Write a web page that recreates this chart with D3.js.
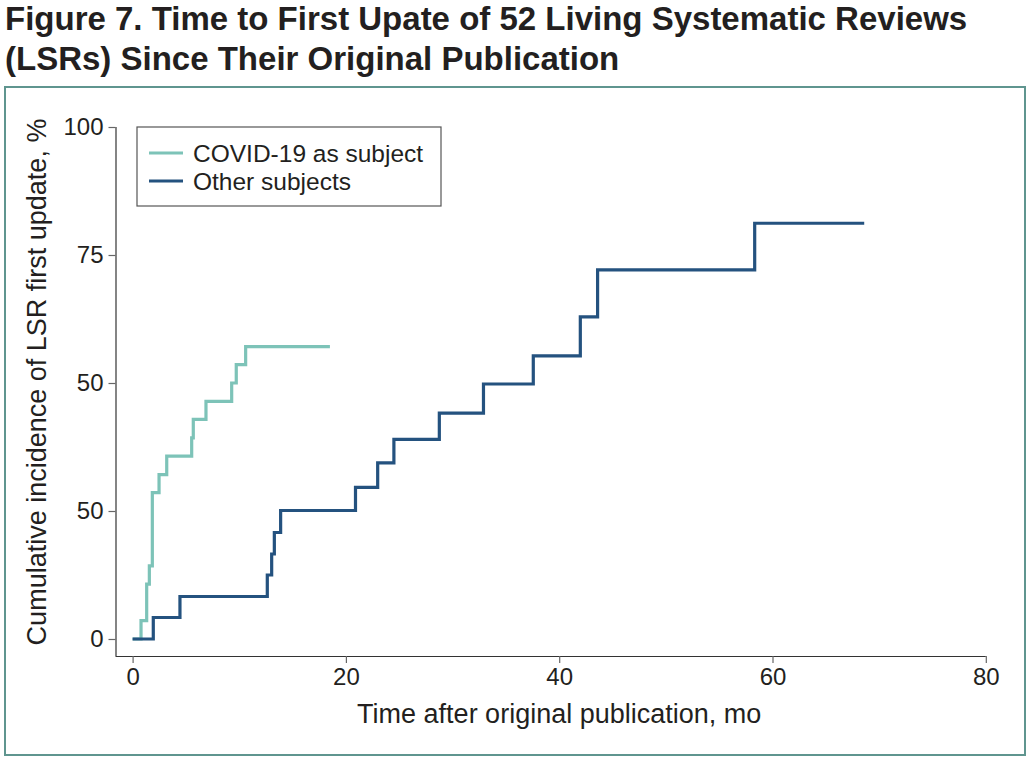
<!DOCTYPE html>
<html>
<head>
<meta charset="utf-8">
<script src="https://cdn.jsdelivr.net/npm/d3@7"></script>
<style>
  body { margin: 0; background: #fff; }
  svg { display: block; font-family: "Liberation Sans", Arial, sans-serif; }
</style>
</head>
<body>
<svg width="1029" height="759"></svg>
<script>
const svg = d3.select("svg");

// data
const covidTime = [0, 0.79, 1.32, 1.57, 1.85, 2.48, 3.2, 5.54, 5.69, 6.88, 9.29, 9.72, 10.6, 18.5];
const covidPct = [0, 3.6, 10.7, 14.3, 28.6, 32.1, 35.7, 39.3, 42.9, 46.4, 50, 53.6, 57.1, 57.1];
const otherTime = [0, 1.94, 4.44, 12.63, 13.04, 13.29, 13.88, 20.9, 22.98, 24.5, 28.76, 32.9, 37.57, 41.98, 43.6, 58.33, 68.6];
const otherPct = [0, 4.2, 8.3, 12.5, 16.6, 20.8, 25.1, 29.6, 34.4, 39, 44.1, 49.8, 55.3, 62.9, 72.1, 81.2, 81.2];
const seriesNames = ["COVID-19 as subject", "Other subjects"];
const seriesColors = ["#7dc3b8", "#24527f"];
const xTicks = [0, 20, 40, 60, 80];
const yTicks = [0, 25, 50, 75, 100];
const yTickLabels = ["0", "50", "50", "75", "100"]; // as printed in the figure

// outer frame
svg.append("rect")
  .attr("x", 5).attr("y", 87)
  .attr("width", 1020).attr("height", 668)
  .attr("fill", "none")
  .attr("stroke", "#5f958f")
  .attr("stroke-width", 2);

// title
const title = svg.append("text")
  .attr("x", 5)
  .attr("font-weight", "bold")
  .attr("font-size", 33)
  .attr("fill", "#231f20");
title.append("tspan").attr("x", 5).attr("y", 30)
  .text("Figure 7. Time to First Upate of 52 Living Systematic Reviews");
title.append("tspan").attr("x", 5).attr("y", 70)
  .text("(LSRs) Since Their Original Publication");

const x = d3.scaleLinear().domain([0, 80]).range([132.6, 985.8]);
const y = d3.scaleLinear().domain([0, 100]).range([639, 127]);

// axes
const xAxis = svg.append("g")
  .attr("transform", "translate(0,656)")
  .call(d3.axisBottom(x).tickValues(xTicks).tickSize(7).tickPadding(5).tickSizeOuter(0));
const yAxis = svg.append("g")
  .attr("transform", "translate(115.5,0)")
  .call(d3.axisLeft(y).tickValues(yTicks).tickSize(7).tickPadding(5)
    .tickFormat((d, i) => yTickLabels[i]).tickSizeOuter(0));

// axis lines meet at the corner
xAxis.select(".domain").attr("d", `M115.5,0.5H${x(80)}`);
yAxis.select(".domain").attr("d", `M0.5,${y(100)}V656`);

[xAxis, yAxis].forEach(g => {
  g.attr("font-size", 24).attr("font-family", "Liberation Sans, Arial, sans-serif");
  g.selectAll(".domain").attr("stroke", "#333").attr("stroke-width", 1.2);
  g.selectAll(".tick line").attr("stroke", "#666").attr("stroke-width", 1.2);
  g.selectAll(".tick text").attr("fill", "#231f20");
});

// axis titles
svg.append("text")
  .attr("x", x(40)).attr("y", 723)
  .attr("text-anchor", "middle")
  .attr("font-size", 27)
  .attr("fill", "#231f20")
  .text("Time after original publication, mo");

svg.append("text")
  .attr("transform", `translate(46,${y(50) - 1}) rotate(-90)`)
  .attr("text-anchor", "middle")
  .attr("font-size", 27)
  .attr("fill", "#231f20")
  .text("Cumulative incidence of LSR first update, %");

// step curves
const line = d3.line()
  .x(d => x(d[0]))
  .y(d => y(d[1]))
  .curve(d3.curveStepAfter);

const series = [
  d3.zip(covidTime, covidPct),
  d3.zip(otherTime, otherPct)
];

svg.selectAll("path.km")
  .data(series)
  .enter()
  .append("path")
  .attr("class", "km")
  .attr("d", line)
  .attr("fill", "none")
  .attr("stroke", (d, i) => seriesColors[i])
  .attr("stroke-width", 3.2);

// legend
const legend = svg.append("g").attr("transform", "translate(137,127)");
legend.append("rect")
  .attr("width", 304).attr("height", 79)
  .attr("fill", "#fff")
  .attr("stroke", "#555")
  .attr("stroke-width", 1.2);

const item = legend.selectAll("g.item")
  .data(seriesNames)
  .enter()
  .append("g")
  .attr("class", "item")
  .attr("transform", (d, i) => `translate(0,${26 + i * 28})`);

item.append("line")
  .attr("x1", 12).attr("x2", 46)
  .attr("stroke", (d, i) => seriesColors[i])
  .attr("stroke-width", 3.2);

item.append("text")
  .attr("x", 56).attr("y", 8.5)
  .attr("font-size", 24.5)
  .attr("fill", "#231f20")
  .text(d => d);
</script>
</body>
</html>
